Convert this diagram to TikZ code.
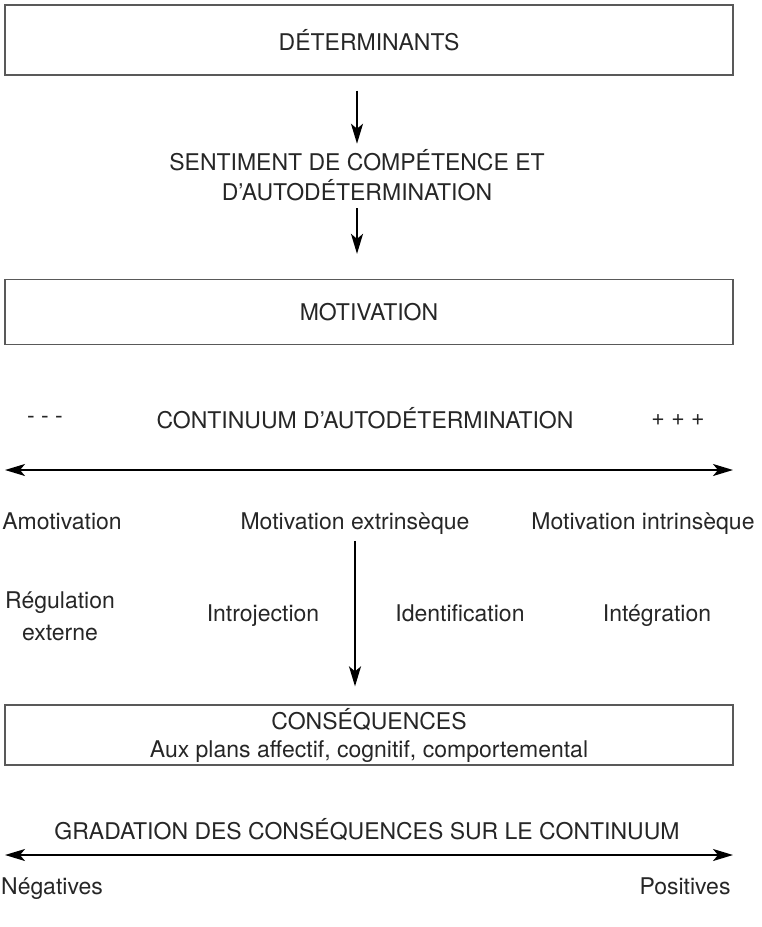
\documentclass[tikz,border=0pt]{standalone}
\usepackage{fontspec}
\setmainfont{TeX Gyre Heros}
\usetikzlibrary{arrows.meta}
\begin{document}
\begin{tikzpicture}[x=1pt,y=-1pt,
    font=\fontsize{23}{30}\selectfont, text=black!85,
    etiq/.style={text height=16.5pt, text depth=0pt},
    boite/.style={draw=black!65, line width=1.3pt, minimum width=728pt, inner sep=0pt, align=center},
    fleche/.style={-{Stealth[length=20pt,width=12pt,inset=5pt]}, line width=1.8pt},
    double fleche/.style={{Stealth[length=20pt,width=12pt,inset=5pt]}-{Stealth[length=20pt,width=12pt,inset=5pt]}, line width=1.8pt}]
    \useasboundingbox (0,0) rectangle (761,927);
    % boites
    \node[boite, minimum height=70pt] (det) at (369,40) {DÉTERMINANTS};
    \node[align=center] (sent) at (357,175) {SENTIMENT DE COMPÉTENCE ET\\D’AUTODÉTERMINATION};
    \node[boite, minimum height=65pt] (motiv) at (369,312) {MOTIVATION};
    \draw[fleche, shorten <=15pt, shorten >=2pt] (det.south -| sent.north) -- (sent.north);
    \draw[fleche, shorten <=4pt, shorten >=25pt] (sent.south) -- (sent.south |- motiv.north);
    % continuum
    \node (moins) at (45,420) {- - -};
    \node (cont) at (365,418) {CONTINUUM D’AUTODÉTERMINATION};
    \node (plus) at (678,420) {+ + +};
    \coordinate (cg) at (5,470);
    \coordinate (cd) at (733,470);
    \draw[double fleche] (cg) -- (cd);
    \node[etiq] (amot) at (62,521) {Amotivation};
    \node[etiq] (mext) at (355,521) {Motivation extrinsèque};
    \node[etiq] (mint) at (643,521) {Motivation intrinsèque};
    \node[align=center, font=\fontsize{23}{32}\selectfont] (regul) at (60,616) {Régulation\\externe};
    \node[etiq] (intro) at (263,613) {Introjection};
    \node[etiq] (ident) at (460,613) {Identification};
    \node[etiq] (integ) at (657,613) {Intégration};
    \node[boite, minimum height=60pt, font=\fontsize{23}{28}\selectfont] (cons) at (369,735) {CONSÉQUENCES\\Aux plans affectif, cognitif, comportemental};
    \draw[fleche, shorten <=8pt, shorten >=18pt] (mext.south) -- (mext.south |- cons.north);
    % gradation
    \node (grad) at (367,830) {GRADATION DES CONSÉQUENCES SUR LE CONTINUUM};
    \coordinate (gg) at (5,855);
    \coordinate (gd) at (733,855);
    \draw[double fleche] (gg) -- (gd);
    \node[etiq] (neg) at (52,886) {Négatives};
    \node[etiq] (pos) at (685,886) {Positives};
\end{tikzpicture}
\end{document}
